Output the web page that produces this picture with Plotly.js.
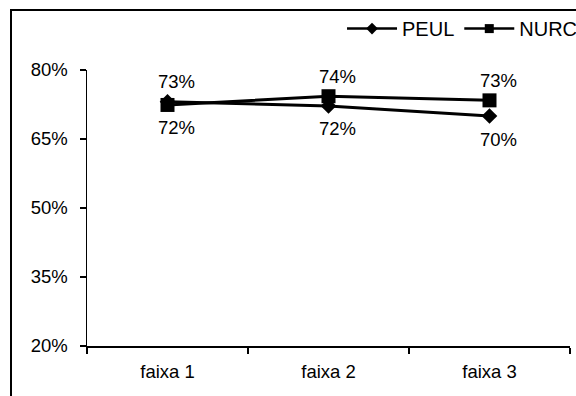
<!DOCTYPE html>
<html>
<head>
<meta charset="utf-8">
<script src="https://cdn.plot.ly/plotly-3.0.1.min.js"></script>
<style>
  html, body { margin: 0; padding: 0; overflow: hidden; background: #fff; }
  #wrap { position: relative; width: 576px; height: 396px; overflow: hidden; }
  #chart { position: absolute; left: 0; top: 0; width: 600px; height: 396px; }
  #frame { position: absolute; left: 10px; top: 9px; width: 600px; height: 400px;
           border-left: 2px solid #000; border-top: 2px solid #000; pointer-events: none; }
</style>
</head>
<body>
<div id="wrap">
  <div id="chart"></div>
  <div id="frame"></div>
</div>
<script>
// Share per band (faixa) for each group
const categories = ['faixa 1', 'faixa 2', 'faixa 3'];
const peul = [0.731, 0.722, 0.700];
const nurc = [0.724, 0.743, 0.734];
const yTicks = [0.20, 0.35, 0.50, 0.65, 0.80];

const FAMILY = 'Liberation Sans, Arial, sans-serif';
const labelFont = { family: FAMILY, size: 18.5, color: '#000' };

// Value labels: the higher series of each band gets its label above, the other below
const fmt = v => Math.round(v * 100) + '%';
const annotations = [];
categories.forEach((c, i) => {
  [peul, nurc].forEach((series, s) => {
    const other = s === 0 ? nurc : peul;
    const above = series[i] >= other[i];
    annotations.push({
      x: c, y: series[i], xref: 'x', yref: 'y',
      text: fmt(series[i]), showarrow: false,
      xanchor: 'center', yanchor: 'middle',
      xshift: 9, yshift: above ? 20 : -23,
      font: labelFont
    });
  });
});

const traces = [
  {
    name: 'PEUL', legendgroup: 'peul', showlegend: false,
    x: categories, y: peul, type: 'scatter', mode: 'lines+markers',
    line: { color: '#000', width: 3 },
    marker: { symbol: 'diamond', size: 12, color: '#000' }
  },
  {
    name: 'NURC', legendgroup: 'nurc', showlegend: false,
    x: categories, y: nurc, type: 'scatter', mode: 'lines+markers',
    line: { color: '#000', width: 3 },
    marker: { symbol: 'square', size: 14, color: '#000' }
  },
  // legend keys (smaller symbols than the plotted markers)
  {
    name: 'PEUL', legendgroup: 'peul', x: [null], y: [null], type: 'scatter', mode: 'lines+markers',
    line: { color: '#000', width: 2.5 }, marker: { symbol: 'diamond', size: 9, color: '#000' }
  },
  {
    name: 'NURC', legendgroup: 'nurc', x: [null], y: [null], type: 'scatter', mode: 'lines+markers',
    line: { color: '#000', width: 2.5 }, marker: { symbol: 'square', size: 9, color: '#000' }
  }
];

const layout = {
  width: 600, height: 396,
  margin: { l: 87, r: 30, t: 70, b: 50, autoexpand: false },
  paper_bgcolor: '#fff', plot_bgcolor: '#fff',
  font: labelFont,
  showlegend: true,
  annotations: annotations,
  legend: {
    orientation: 'h', x: 0.528, xanchor: 'left', y: 1.15, yanchor: 'middle',
    font: { family: FAMILY, size: 20, color: '#000' },
    itemwidth: 50, tracegroupgap: 0, bgcolor: 'rgba(0,0,0,0)'
  },
  xaxis: {
    type: 'category', categoryorder: 'array', categoryarray: categories,
    range: [-0.5, 2.5], tickson: 'boundaries',
    showline: true, linecolor: '#000', linewidth: 1.5,
    ticks: 'outside', ticklen: 6, tickcolor: '#000', tickwidth: 1.5,
    showgrid: false, zeroline: false, ticklabelstandoff: 8,
    tickfont: labelFont, fixedrange: true
  },
  yaxis: {
    range: [0.2, 0.8], tickvals: yTicks, tickformat: '.0%',
    showline: true, linecolor: '#000', linewidth: 1.5,
    ticks: 'outside', ticklen: 6, tickcolor: '#000', tickwidth: 1.5,
    showgrid: false, zeroline: false, ticklabelstandoff: 8,
    tickfont: labelFont, fixedrange: true
  }
};

Plotly.newPlot('chart', traces, layout, { displayModeBar: false, staticPlot: true });
</script>
</body>
</html>
